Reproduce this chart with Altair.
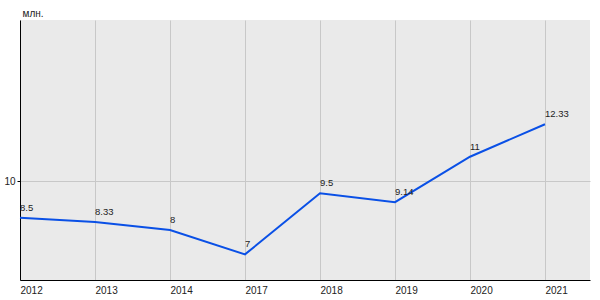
import altair as alt
import pandas as pd

years = ["2012", "2013", "2014", "2017", "2018", "2019", "2020", "2021"]
values = [8.5, 8.33, 8, 7, 9.5, 9.14, 11, 12.33]
labels = ["8.5", "8.33", "8", "7", "9.5", "9.14", "11", "12.33"]

df = pd.DataFrame({"idx": list(range(len(years))), "year": years, "value": values, "label": labels})

label_expr = "[" + ",".join(f"'{y}'" for y in years) + "][datum.value]"

x = alt.X("idx:Q", scale=alt.Scale(domain=[0, 7.6], nice=False, zero=False),
          axis=alt.Axis(values=list(range(len(years))), labelExpr=label_expr, title=None,
                        grid=True, gridColor="#c8c8c8", ticks=False, labelAlign="left",
                        labelPadding=5, domainColor="#000000", labelFont="Liberation Sans",
                        labelFontSize=10, labelColor="#222222", labelFlush=False))
y = alt.Y("value:Q", scale=alt.Scale(domain=[5.95, 16.6], nice=False, zero=False),
          axis=alt.Axis(values=[10], title="млн.", titleAngle=0, titleX=2, titleY=-7,
                        titleAlign="left", titleBaseline="middle", titleFont="Liberation Sans",
                        titleFontSize=10, titleFontWeight="normal", titleColor="#222222",
                        grid=True, gridColor="#c8c8c8", tickSize=3, tickColor="#000000",
                        domainColor="#000000", labelFont="Liberation Sans", labelFontSize=10,
                        labelColor="#222222", labelPadding=2))

line = alt.Chart(df).mark_line(color="#0a50e6", strokeWidth=2).encode(x=x, y=y)
text = alt.Chart(df).mark_text(align="left", baseline="alphabetic", dy=-7, dx=0,
                               font="Liberation Sans", fontSize=9.5, color="#222222").encode(
    x="idx:Q", y="value:Q", text="label:N")

chart = alt.layer(line, text).properties(
    width=570, height=260,
    autosize=alt.AutoSizeParams(type="none"),
    padding={"left": 20, "top": 20, "right": 10, "bottom": 20},
    background="#ffffff",
).configure_view(fill="#eaeaea", stroke=None)

chart.save("out.html", embed_options={"renderer": "svg", "actions": False})
